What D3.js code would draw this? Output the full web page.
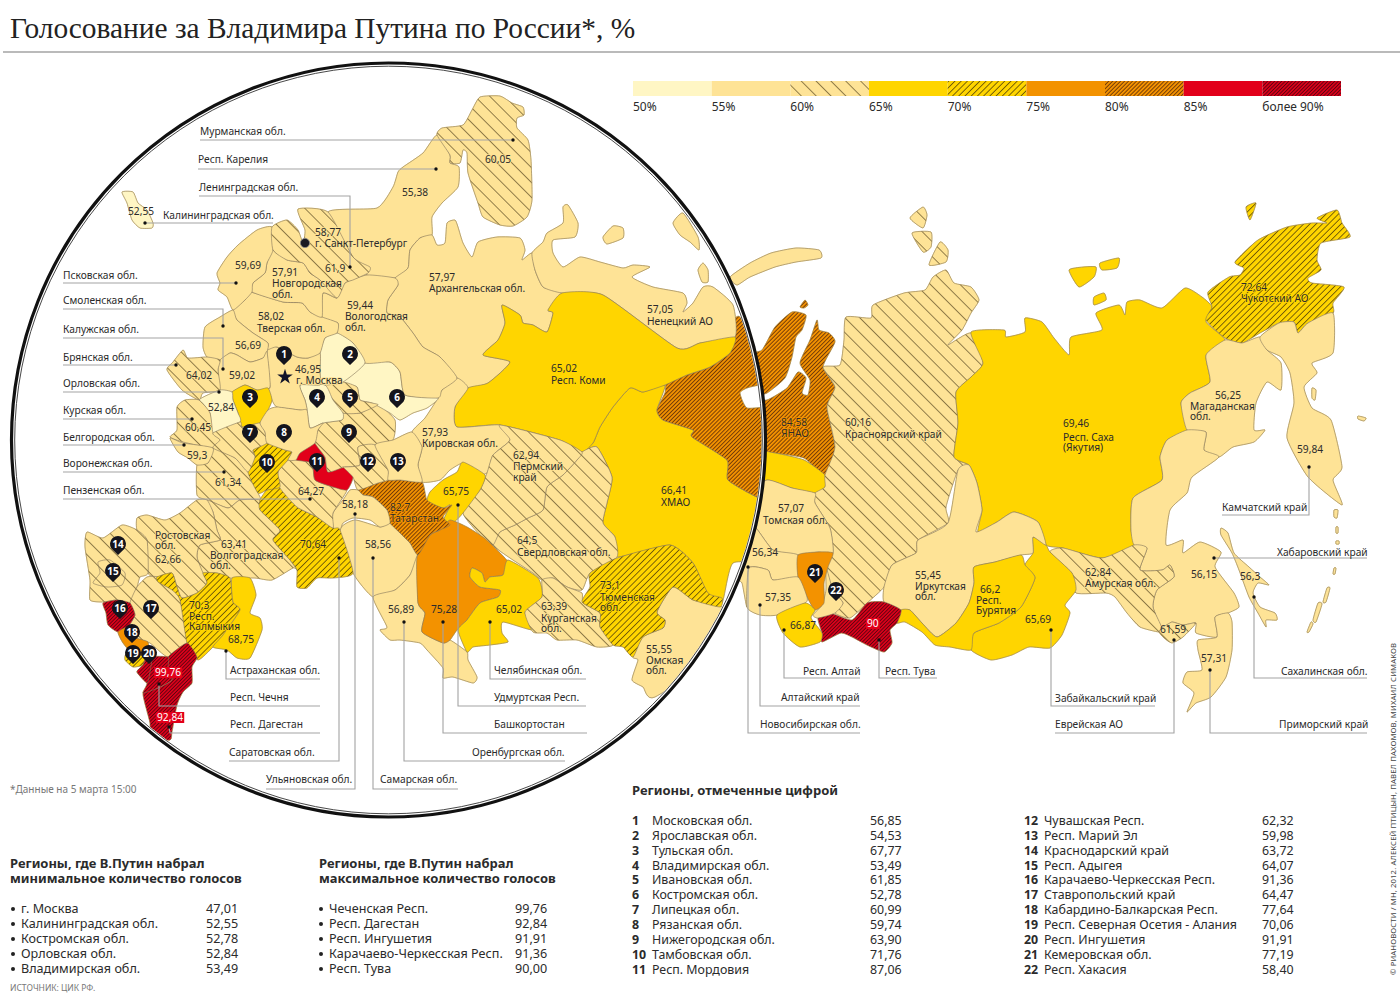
<!DOCTYPE html>
<html>
<head>
<meta charset="utf-8">
<script src="https://cdn.jsdelivr.net/npm/d3@7"></script>
<style>
  html, body { margin: 0; padding: 0; background: #fff; }
  svg { display: block; }
  text { font-family: "Noto Sans", sans-serif; fill: #2b2b2b; }
</style>
</head>
<body>
<div id="my_dataviz"></div>
<script>
// Election results by region
const regionNames = ["Мурманская обл.","Респ. Карелия","Архангельская обл.","Ненецкий АО","Респ. Коми","ХМАО","ЯНАО","Свердловская обл.","Пермский край","Кировская обл.","Удмуртская Респ.","Татарстан","Самарская обл.","Оренбургская обл.","Башкортостан","Челябинская обл.","Курганская обл.","Тюменская обл.","Омская обл.","Ульяновская обл.","Саратовская обл.","Пензенская обл.","Респ. Мордовия","Тамбовская обл.","Нижегородская обл.","Чувашская Респ.","Респ. Марий Эл","Костромская обл.","Ивановская обл.","Владимирская обл.","Ярославская обл.","Московская обл.","Тверская обл.","Новгородская обл.","Псковская обл.","Ленинградская обл.","Вологодская обл.","Смоленская обл.","Калужская обл.","Тульская обл.","Брянская обл.","Орловская обл.","Курская обл.","Белгородская обл.","Воронежская обл.","Липецкая обл.","Рязанская обл.","Ростовская обл.","Волгоградская обл.","Краснодарский край","Респ. Адыгея","Ставропольский край","Карачаево-Черкесская Респ.","Кабардино-Балкарская Респ.","Респ. Северная Осетия - Алания","Респ. Калмыкия","Астраханская обл.","Респ. Дагестан","Чеченская Респ.","Респ. Ингушетия","Калининградская обл.","Красноярский край","Респ. Саха","Чукотский АО","Магаданская обл.","Камчатский край","Хабаровский край","Амурская обл.","Забайкальский край","Респ. Бурятия","Иркутская обл.","Респ. Тува","Респ. Хакасия","Кемеровская обл.","Респ. Алтай","Алтайский край","Новосибирская обл.","Томская обл.","Еврейская АО","Приморский край","Сахалинская обл."];
const regionValues = [60.05,55.38,57.97,57.05,65.02,66.41,84.58,64.5,62.94,57.93,65.75,82.7,58.56,56.89,75.28,65.02,63.39,73.1,55.55,58.18,70.64,64.27,87.06,71.76,63.90,62.32,59.98,52.78,61.85,53.49,54.53,56.85,58.02,57.91,59.69,61.9,59.44,56.69,59.02,67.77,64.02,52.84,60.45,59.3,61.34,60.99,59.74,62.66,63.41,63.72,64.07,64.47,91.36,77.64,70.06,70.3,68.75,92.84,99.76,91.91,52.55,60.16,69.46,72.64,56.25,59.84,56.15,62.84,65.69,66.2,55.45,90,58.40,77.19,66.87,57.35,56.34,57.07,61.59,57.31,56.3];

// Class breaks and legend captions
const classBreaks = [55,60,65,70,75,80,85,90];
const legendLabels = ["50%","55%","60%","65%","70%","75%","80%","85%","более 90%"];

// Tables under the map
const minRows = ["г. Москва","Калининградская обл.","Костромская обл.","Орловская обл.","Владимирская обл."];
const minValues = ["47,01","52,55","52,78","52,84","53,49"];
const maxRows = ["Чеченская Респ.","Респ. Дагестан","Респ. Ингушетия","Карачаево-Черкесская Респ.","Респ. Тува"];
const maxValues = ["99,76","92,84","91,91","91,36","90,00"];
const numberedRows = ["Московская обл.","Ярославская обл.","Тульская обл.","Владимирская обл.","Ивановская обл.","Костромская обл.","Липецкая обл.","Рязанская обл.","Нижегородская обл.","Тамбовская обл.","Респ. Мордовия","Чувашская Респ.","Респ. Марий Эл","Краснодарский край","Респ. Адыгея","Карачаево-Черкесская Респ.","Ставропольский край","Кабардино-Балкарская Респ.","Респ. Северная Осетия - Алания","Респ. Ингушетия","Кемеровская обл.","Респ. Хакасия"];
const numberedValues = ["56,85","54,53","67,77","53,49","61,85","52,78","60,99","59,74","63,90","71,76","87,06","62,32","59,98","63,72","64,07","91,36","64,47","77,64","70,06","91,91","77,19","58,40"];

// Region outlines in map units, magnified part inside the lens. Later ones paint over earlier ones.
const lensRings = {
"ХМАО":[[[582,452],[593,443],[600,427],[613,407],[630,388],[643,392],[665,385],[657,410],[663,420],[693,430],[692,437],[727,460],[728,480],[757,497],[775,497],[775,560],[733,563],[722,603],[707,593],[693,563],[670,545],[617,557],[615,537],[603,523],[607,503],[612,477],[597,447]]],
"ЯНАО":[[[732,322],[740,317],[760,353],[775,360],[775,385],[760,385],[747,388],[740,393],[747,408],[775,412],[775,500],[757,497],[728,480],[727,460],[692,437],[693,430],[663,420],[657,410],[665,393],[667,383],[687,375],[710,367],[730,353],[735,337]]],
"Респ. Карелия":[[[437,135],[450,155],[450,163],[459,167],[458,187],[442,203],[432,217],[432,235],[420,238],[410,250],[408,268],[395,278],[367,275],[353,257],[328,212],[377,208],[393,187],[398,172],[403,167],[423,153]]],
"Мурманская обл.":[[[437,135],[442,128],[463,125],[472,110],[480,97],[500,96],[512,103],[523,107],[524,115],[517,118],[517,128],[528,140],[531,160],[532,200],[527,217],[513,226],[500,225],[483,217],[478,203],[468,173],[467,153],[463,150],[460,163],[450,163],[450,155]]],
"Архангельская обл.":[[[432,235],[437,245],[445,243],[447,223],[455,220],[458,227],[463,243],[472,257],[478,242],[497,237],[520,238],[525,250],[522,260],[532,253],[535,270],[543,287],[562,293],[548,310],[553,313],[547,332],[533,325],[523,323],[520,315],[502,305],[505,323],[498,340],[483,355],[510,362],[488,383],[468,388],[457,378],[440,357],[423,347],[413,333],[400,317],[387,313],[388,300],[398,285],[395,278],[408,268],[410,250],[420,238]]],
"Ненецкий АО":[[[532,253],[543,242],[547,233],[563,223],[563,207],[568,205],[578,223],[575,237],[553,240],[553,253],[563,267],[580,257],[600,262],[623,268],[633,265],[650,267],[632,277],[653,287],[683,293],[687,303],[683,312],[693,303],[703,287],[713,287],[733,305],[735,337],[700,343],[677,348],[603,295],[562,293],[543,287],[535,270]],[[603,237],[613,226],[623,228],[623,238],[607,244]],[[698,270],[703,263],[708,270],[708,282],[702,282]],[[673,223],[683,213],[698,237],[699,250],[690,242],[680,235]]],
"Респ. Коми":[[[562,293],[603,295],[677,348],[700,343],[735,337],[730,353],[710,367],[687,375],[665,385],[643,392],[630,388],[613,407],[600,427],[593,443],[582,452],[560,440],[500,425],[457,427],[455,407],[468,388],[488,383],[510,362],[483,355],[498,340],[505,323],[502,305],[520,315],[523,323],[533,325],[547,332],[553,313],[548,310]]],
"Кировская обл.":[[[457,378],[468,388],[455,407],[457,427],[500,425],[510,440],[493,455],[487,473],[470,475],[463,463],[450,470],[440,480],[422,482],[418,465],[422,447],[412,432],[425,418],[438,398],[442,390]]],
"Свердловская обл.":[[[597,447],[582,452],[577,460],[563,475],[547,487],[543,510],[528,518],[515,525],[500,532],[493,545],[510,558],[533,573],[542,580],[553,578],[567,587],[582,590],[590,573],[617,557],[615,537],[603,523],[607,503],[612,477]]],
"Пермский край":[[[500,425],[560,440],[582,452],[577,460],[563,475],[547,487],[543,510],[528,518],[515,525],[500,532],[493,545],[482,537],[463,513],[480,490],[487,473],[493,455],[510,440]]],
"Удмуртская Респ.":[[[463,462],[485,475],[480,490],[463,513],[453,523],[443,522],[450,505],[443,508],[427,503],[430,492],[443,480],[457,472]]],
"Самарская обл.":[[[340,530],[355,520],[380,527],[390,523],[400,533],[410,543],[418,555],[410,575],[395,590],[373,597],[353,573]]],
"Оренбургская обл.":[[[373,597],[395,590],[410,575],[418,555],[418,603],[425,613],[422,632],[443,643],[450,640],[467,652],[468,660],[477,677],[473,683],[453,677],[443,678],[443,668],[427,650],[420,643],[400,640],[390,640],[380,630],[387,627]]],
"Башкортостан":[[[450,520],[467,527],[483,537],[492,545],[508,562],[503,575],[490,577],[485,582],[482,573],[472,568],[470,577],[480,587],[500,590],[498,597],[480,603],[467,620],[457,630],[450,640],[443,643],[422,632],[425,613],[418,603],[417,557],[430,535],[440,530]]],
"Татарстан":[[[358,490],[378,483],[388,480],[400,480],[422,482],[427,500],[443,508],[452,505],[443,517],[450,525],[440,530],[430,535],[418,555],[410,543],[400,533],[390,523],[387,510],[373,497],[363,495]]],
"Челябинская обл.":[[[508,560],[538,578],[542,597],[525,612],[533,630],[503,622],[502,633],[508,642],[490,645],[473,647],[467,652],[458,630],[467,620],[480,603],[498,597],[500,590],[480,587],[470,577],[472,568],[482,573],[485,582],[490,577],[503,575]]],
"Курганская обл.":[[[542,580],[553,578],[567,587],[582,593],[583,603],[600,613],[600,627],[613,645],[597,647],[577,640],[557,640],[547,633],[533,632],[525,612],[542,597]]],
"Омская обл.":[[[673,587],[693,600],[722,607],[740,640],[655,697],[643,687],[632,680],[638,660],[633,657],[643,637],[663,628],[665,620],[657,612]]],
"Тюменская обл.":[[[590,573],[617,558],[670,545],[693,563],[708,593],[722,598],[720,607],[693,600],[673,587],[657,612],[665,620],[663,628],[643,637],[633,657],[623,647],[613,645],[600,627],[600,613],[582,602],[590,587]]],
"Ульяновская обл.":[[[333,513],[343,500],[350,490],[358,490],[363,495],[373,497],[387,510],[390,523],[380,527],[370,520],[353,518],[343,523],[340,530],[333,528]]],
"Воронежская обл.":[[[213,448],[235,458],[248,472],[258,493],[260,500],[240,500],[228,508],[207,500],[197,495],[197,465],[208,463]]],
"Волгоградская обл.":[[[213,512],[207,500],[228,508],[240,500],[260,500],[260,510],[280,530],[273,540],[290,560],[297,570],[293,568],[272,580],[255,578],[230,578],[217,573],[203,573],[197,557],[200,545],[220,540],[217,530]]],
"Саратовская обл.":[[[260,500],[267,490],[280,488],[297,507],[317,517],[333,528],[340,530],[353,573],[333,578],[317,578],[307,588],[297,587],[297,570],[290,560],[273,540],[280,530],[260,510]]],
"Пензенская обл.":[[[280,488],[278,472],[288,460],[296,460],[312,463],[315,480],[333,487],[347,490],[333,513],[333,528],[317,517],[297,507]]],
"Тамбовская обл.":[[[253,450],[267,443],[285,450],[292,452],[288,460],[278,472],[280,487],[267,490],[258,493],[248,472],[255,457]]],
"Респ. Мордовия":[[[296,460],[300,453],[315,443],[325,457],[328,472],[343,467],[353,477],[347,490],[333,487],[315,480],[312,463]]],
"Нижегородская обл.":[[[342,420],[343,413],[360,413],[378,405],[395,420],[393,440],[375,445],[358,447],[360,465],[345,467],[328,472],[325,457],[315,443],[318,430],[323,423]]],
"Чувашская Респ.":[[[358,447],[375,445],[388,470],[388,480],[378,483],[358,490],[353,477],[343,467],[345,467],[360,465]]],
"Респ. Марий Эл":[[[375,445],[393,440],[412,432],[422,447],[418,465],[422,482],[400,480],[388,480],[388,470]]],
"Костромская обл.":[[[343,382],[365,363],[390,362],[400,372],[405,395],[438,398],[427,408],[413,413],[400,420],[390,413],[372,403],[360,400],[357,387]]],
"Вологодская обл.":[[[345,283],[367,275],[395,278],[398,285],[388,300],[387,313],[400,317],[413,333],[423,347],[440,357],[457,378],[442,390],[438,398],[405,395],[400,372],[390,362],[365,363],[353,343],[337,333],[338,323],[322,317],[323,293],[337,298]]],
"Ивановская обл.":[[[325,385],[343,382],[357,387],[360,400],[372,403],[378,405],[360,413],[343,413],[333,400]]],
"Владимирская обл.":[[[300,385],[325,385],[333,400],[343,413],[342,420],[323,423],[310,428],[307,410],[305,400]]],
"Ярославская обл.":[[[320,353],[325,338],[337,333],[353,343],[365,363],[343,382],[325,385],[320,380],[320,372]]],
"Московская обл.":[[[267,350],[277,347],[297,357],[308,358],[320,353],[320,372],[320,385],[300,385],[305,400],[307,410],[300,410],[277,407],[272,400],[268,388],[270,387]]],
"Тверская обл.":[[[250,292],[283,302],[302,303],[310,312],[322,317],[338,323],[337,333],[325,338],[320,353],[308,358],[297,357],[277,347],[267,350],[268,343],[253,333],[237,320],[233,310],[245,300]]],
"Новгородская обл.":[[[273,250],[287,260],[303,263],[310,273],[320,280],[337,298],[323,293],[322,317],[310,312],[302,303],[283,302],[252,292],[253,283],[265,273],[267,263]]],
"Псковская обл.":[[[217,273],[227,257],[238,245],[257,230],[272,227],[273,250],[267,263],[265,273],[253,283],[252,292],[245,300],[233,310],[227,297],[218,290],[220,283]]],
"Ленинградская обл.":[[[272,227],[287,220],[298,230],[303,243],[305,230],[298,209],[328,212],[353,257],[370,267],[368,273],[353,280],[345,283],[337,298],[320,280],[310,273],[303,263],[287,260],[273,250]]],
"Смоленская обл.":[[[203,347],[205,327],[220,317],[233,310],[237,320],[253,333],[268,343],[267,352],[263,358],[250,362],[237,355],[230,353],[220,360],[207,357]]],
"Калужская обл.":[[[220,360],[230,353],[237,355],[250,362],[263,358],[267,352],[270,387],[257,390],[245,385],[232,392],[220,390],[218,370]]],
"Тульская обл.":[[[232,392],[245,385],[257,390],[268,388],[272,400],[268,410],[260,423],[242,427],[238,413],[233,400]]],
"Брянская обл.":[[[167,370],[173,362],[183,350],[188,358],[207,357],[220,360],[218,370],[220,390],[203,393],[199,400],[182,390]]],
"Орловская обл.":[[[199,400],[220,390],[232,392],[233,400],[238,413],[240,422],[213,433],[210,413]]],
"Курская обл.":[[[177,407],[185,400],[199,400],[210,413],[213,433],[220,440],[213,448],[183,442],[170,437],[177,430]]],
"Белгородская обл.":[[[170,438],[183,443],[213,448],[208,463],[197,465],[188,458],[178,452]]],
"Липецкая обл.":[[[213,433],[240,422],[242,427],[260,423],[265,432],[267,443],[253,450],[255,457],[248,472],[235,458],[213,448],[220,440]]],
"Рязанская обл.":[[[260,423],[268,410],[277,407],[300,410],[307,410],[310,428],[323,423],[318,430],[315,443],[300,453],[296,460],[288,460],[292,452],[285,450],[267,443],[265,432]]],
"Ростовская обл.":[[[137,518],[147,515],[165,520],[180,513],[197,500],[207,500],[213,512],[217,530],[220,540],[200,545],[197,557],[203,573],[207,583],[197,593],[182,598],[177,587],[172,573],[157,577],[148,573],[147,540],[137,530]]],
"Краснодарский край":[[[87,532],[103,538],[122,525],[137,530],[147,540],[148,573],[140,577],[137,587],[130,603],[117,600],[103,602],[90,600],[90,580],[85,547]]],
"Респ. Адыгея":[[[98,562],[110,560],[125,573],[122,585],[107,587],[93,583],[100,573]]],
"Ставропольский край":[[[137,587],[147,577],[158,577],[173,587],[180,598],[187,643],[168,657],[150,643],[133,637],[128,627],[135,615],[130,603]]],
"Карачаево-Черкесская Респ.":[[[103,603],[117,600],[130,603],[135,615],[128,627],[118,632],[108,625],[106,613]]],
"Кабардино-Балкарская Респ.":[[[118,632],[128,627],[133,637],[148,642],[147,657],[135,657],[123,643]]],
"Респ. Северная Осетия - Алания":[[[125,660],[127,653],[147,657],[143,665],[133,667]]],
"Респ. Калмыкия":[[[157,577],[172,573],[177,587],[182,598],[197,593],[207,583],[203,573],[217,573],[230,578],[233,602],[240,610],[223,635],[213,647],[198,660],[187,643],[180,600],[172,590],[158,582]]],
"Астраханская обл.":[[[232,578],[250,578],[256,595],[250,613],[260,618],[262,630],[250,658],[237,658],[227,650],[213,647],[223,635],[240,610],[233,602]]],
"Респ. Дагестан":[[[168,657],[187,643],[197,657],[192,667],[192,683],[183,692],[177,705],[172,732],[170,740],[150,740],[150,723],[143,693],[158,688],[172,680],[168,668]]],
"Чеченская Респ.":[[[137,672],[143,665],[147,657],[168,657],[168,668],[172,680],[158,688],[143,693],[147,683]]],
"Респ. Ингушетия":[[[143,665],[147,657],[152,657],[150,672],[147,683],[137,672]]],
"Калининградская обл.":[[[122,192],[133,192],[138,203],[147,210],[153,223],[152,228],[140,228],[132,220],[127,203]]]
};

// Same for the part of the map outside the lens
const eastRings = {
"Архангельская обл.":[[[730,277],[750,263],[771,253],[796,248],[819,250],[821,258],[796,262],[775,267],[750,277],[737,285]]],
"ЯНАО":[[[745,360],[762,350],[775,327],[792,312],[806,315],[802,330],[796,337],[792,357],[785,378],[767,393],[750,398],[767,400],[787,388],[798,372],[806,378],[802,393],[808,395],[810,380],[800,363],[810,340],[817,320],[819,330],[829,333],[835,342],[823,367],[835,387],[827,407],[835,447],[825,475],[804,458],[775,453],[745,447]],[[800,307],[805,300],[808,305],[804,308]]],
"ХМАО":[[[745,450],[775,453],[804,460],[825,475],[825,487],[815,493],[792,488],[767,480],[745,490]]],
"Красноярский край":[[[846,317],[871,318],[873,305],[904,293],[925,290],[933,277],[946,270],[954,283],[971,287],[979,300],[971,313],[962,330],[948,345],[971,333],[983,363],[971,377],[956,392],[958,423],[954,457],[969,465],[958,470],[946,507],[948,523],[918,540],[916,553],[892,565],[884,587],[867,603],[850,618],[835,613],[843,603],[833,590],[826,567],[833,553],[830,528],[815,503],[815,493],[825,487],[825,475],[835,447],[827,407],[835,387],[823,367],[840,365],[844,340]],[[910,218],[923,207],[927,215],[923,228]],[[912,233],[931,232],[931,247],[923,252]],[[929,265],[940,242],[948,250],[946,262]]],
"Респ. Саха":[[[971,332],[1004,330],[1006,337],[1025,332],[1025,318],[1042,322],[1054,338],[1069,355],[1071,337],[1102,330],[1096,313],[1119,305],[1125,315],[1127,302],[1140,300],[1162,308],[1185,288],[1202,297],[1212,307],[1206,322],[1225,340],[1206,355],[1210,382],[1190,393],[1181,403],[1187,430],[1167,440],[1160,457],[1162,480],[1133,498],[1131,530],[1134,547],[1102,558],[1063,548],[1046,545],[1038,522],[1014,512],[997,522],[978,532],[982,510],[977,483],[969,465],[954,457],[958,423],[956,392],[971,377],[983,363]],[[1069,270],[1083,267],[1096,267],[1094,277],[1079,287]],[[1100,263],[1119,258],[1117,268],[1102,270]],[[1094,297],[1104,293],[1106,300],[1094,305]]],
"Чукотский АО":[[[1206,320],[1212,307],[1208,292],[1229,277],[1240,275],[1244,268],[1235,262],[1258,240],[1287,227],[1312,223],[1327,223],[1317,218],[1337,210],[1342,223],[1350,237],[1321,243],[1317,260],[1321,270],[1308,278],[1312,283],[1344,287],[1333,303],[1333,313],[1308,323],[1298,333],[1294,322],[1279,323],[1260,333],[1242,343],[1225,338]],[[1246,207],[1256,203],[1250,220]]],
"Магаданская обл.":[[[1225,340],[1242,343],[1260,337],[1267,350],[1281,363],[1281,390],[1267,382],[1256,403],[1254,430],[1265,430],[1254,442],[1233,447],[1219,457],[1204,450],[1206,432],[1187,430],[1181,403],[1190,393],[1210,382],[1206,355]]],
"Камчатский край":[[[1260,337],[1279,323],[1294,322],[1298,333],[1308,323],[1333,313],[1333,353],[1312,363],[1317,373],[1304,387],[1312,408],[1331,420],[1342,467],[1333,480],[1342,505],[1308,477],[1287,438],[1294,403],[1290,373],[1281,357],[1267,350]],[[1312,388],[1316,390],[1315,400],[1312,398]],[[1358,416],[1366,418],[1364,421],[1358,419]]],
"Хабаровский край":[[[1167,440],[1187,430],[1206,432],[1204,450],[1219,457],[1192,477],[1187,493],[1170,510],[1166,545],[1183,540],[1183,553],[1200,542],[1221,552],[1215,567],[1234,593],[1239,607],[1228,613],[1215,617],[1217,637],[1196,633],[1196,623],[1183,625],[1172,622],[1162,628],[1153,607],[1157,590],[1174,577],[1170,565],[1162,570],[1140,570],[1147,548],[1134,545],[1131,530],[1133,498],[1162,480],[1160,457]]],
"Амурская обл.":[[[1050,552],[1063,548],[1102,558],[1134,545],[1147,548],[1140,570],[1162,570],[1170,565],[1174,577],[1157,590],[1153,607],[1162,628],[1159,632],[1140,627],[1127,613],[1115,597],[1106,593],[1076,593],[1072,573]]],
"Забайкальский край":[[[1033,537],[1046,545],[1050,552],[1072,573],[1076,590],[1065,605],[1070,613],[1062,635],[1050,648],[1029,647],[1012,655],[991,660],[971,650],[974,633],[999,623],[1021,607],[1035,578],[1025,565],[1033,553]]],
"Иркутская обл.":[[[976,532],[997,522],[1014,512],[1038,522],[1046,545],[1033,537],[1033,553],[1021,555],[995,562],[974,567],[974,583],[969,603],[956,623],[937,637],[922,623],[910,610],[901,610],[884,602],[884,587],[892,565],[916,553],[918,540],[948,523],[958,470],[969,465],[977,483],[982,510]]],
"Респ. Бурятия":[[[974,567],[995,562],[1021,555],[1025,565],[1035,578],[1021,607],[999,623],[974,633],[971,650],[950,647],[935,645],[922,632],[905,622],[897,623],[901,610],[910,610],[922,623],[937,637],[956,623],[969,603],[974,583]]],
"Респ. Тува":[[[818,618],[830,613],[852,620],[867,603],[884,602],[901,610],[897,623],[890,630],[892,643],[884,652],[867,645],[852,637],[841,633],[822,642],[822,633]]],
"Томская обл.":[[[745,497],[767,480],[792,488],[815,493],[815,503],[830,528],[833,553],[818,552],[798,555],[773,550],[756,528],[745,525]]],
"Новосибирская обл.":[[[745,525],[756,528],[773,550],[798,555],[798,577],[773,580],[768,570],[749,568],[747,607],[742,583],[735,575]]],
"Респ. Хакасия":[[[826,567],[833,590],[843,603],[835,613],[818,618],[813,615],[822,605],[826,590]]],
"Кемеровская обл.":[[[798,555],[818,552],[833,553],[828,567],[824,583],[824,603],[815,610],[807,597],[798,577]]],
"Алтайский край":[[[747,607],[749,568],[768,570],[773,580],[798,577],[807,597],[805,603],[777,615],[760,615]]],
"Респ. Алтай":[[[777,615],[805,603],[815,610],[811,618],[822,633],[820,642],[800,647],[783,633]]],
"Еврейская АО":[[[1162,628],[1172,622],[1183,625],[1196,623],[1183,637],[1172,643],[1164,638],[1159,632]]],
"Приморский край":[[[1198,640],[1217,637],[1215,617],[1228,613],[1232,622],[1232,650],[1226,677],[1211,697],[1196,703],[1187,712],[1194,693],[1183,683],[1187,672],[1202,670],[1198,650]]],
"Сахалинская обл.":[[[1221,528],[1228,533],[1234,553],[1249,567],[1260,577],[1269,585],[1258,583],[1253,593],[1260,607],[1275,613],[1277,620],[1266,620],[1266,627],[1258,613],[1249,597],[1239,570],[1232,553],[1221,535]],[[1334,510],[1338,510],[1337,518],[1334,517]],[[1336,527],[1338,527],[1338,533],[1336,533]],[[1336,541],[1339,541],[1339,544],[1336,544]],[[1334,568],[1336,568],[1335,574],[1333,574]],[[1327,588],[1330,588],[1326,602],[1323,602]],[[1318,603],[1322,604],[1316,622],[1313,620]],[[1311,622],[1313,624],[1309,632],[1307,632]]]
};

// Text placed on the map: caption, x, y, halo colour key
const mapLabels = [
["60,05",485,163,"l"],["55,38",402,196],["52,55",128,215],["58,77",315,236,"l"],["г. Санкт-Петербург",315,247],["61,9",325,272,"l"],["59,69",235,269],["57,91",272,276],["Новгородская",272,287],["обл.",272,298],["59,44",347,309],["Вологодская",345,320],["обл.",345,331],["58,02",258,320],["Тверская обл.",257,332],["56,69",235,349],["46,95",295,373],["г. Москва",296,384,"l"],["64,02",186,379,"l"],["59,02",229,379],["52,84",208,411],["60,45",185,431,"l"],["59,3",187,459],["61,34",215,486,"l"],["64,27",298,495,"l"],["58,18",342,508],["Ростовская",155,539,"l"],["обл.",155,549,"l"],["62,66",155,563,"l"],["63,41",221,548,"l"],["Волгоградская",210,559,"l"],["обл.",210,569,"l"],["70,64",300,548,"y"],["58,56",365,548],["70,3",189,609,"y"],["Респ.",189,620,"y"],["Калмыкия",189,630,"y"],["68,75",228,643],["56,89",388,613],["75,28",431,613],["65,02",496,613],["65,75",443,495],["82,7",390,511,"o"],["Татарстан",390,522,"o"],["57,93",422,436],["Кировская обл.",422,447],["62,94",513,459,"l"],["Пермский",513,470,"l"],["край",513,481,"l"],["64,5",517,544,"l"],["Свердловская обл.",517,556,"l"],["63,39",541,610,"l"],["Курганская",541,622,"l"],["обл.",541,632,"l"],["73,1",600,589,"y"],["Тюменская",600,601,"y"],["обл.",600,611,"y"],["55,55",646,653],["Омская",646,664],["обл.",646,674],["66,41",661,494],["ХМАО",661,506],["65,02",551,372],["Респ. Коми",551,384],["57,97",429,281],["Архангельская обл.",429,292],["57,05",647,313],["Ненецкий АО",647,325],
["84,58",781,426,"o"],["ЯНАО",781,437,"o"],["60,16",845,426,"l"],["Красноярский край",845,438,"l"],["69,46",1063,427],["Респ. Саха",1063,441],["(Якутия)",1063,451],["72,64",1241,291,"y"],["Чукотский АО",1241,302,"y"],["56,25",1215,399],["Магаданская",1190,410],["обл.",1190,420],["59,84",1297,453],["57,07",778,512],["Томская обл.",763,524],["56,34",752,556],["57,35",765,601],["66,87",790,629],["55,45",915,579],["Иркутская",915,590],["обл.",915,600],["66,2",980,593],["Респ.",976,604],["Бурятия",976,614],["65,69",1025,623],["62,84",1085,576,"l"],["Амурская обл.",1085,587,"l"],["56,15",1191,578],["56,3",1240,580],["61,59",1160,633],["57,31",1201,662]
];
const redLabels = [["99,76",155,676],["92,84",157,721],["90",867,627]];

// Callouts: caption, text x, text y, leader line from the dot along the underline
const callouts = [
["Мурманская обл.",200,135,[[513,140],[200,140]]],
["Респ. Карелия",198,163,[[436,169],[198,169]]],
["Ленинградская обл.",199,191,[[350,267],[350,196],[199,196]]],
["Калининградская обл.",163,219,[[145,223],[273,223]]],
["Псковская обл.",63,279,[[236,283],[63,283]]],
["Смоленская обл.",63,304,[[223,326],[223,309],[63,309]]],
["Калужская обл.",63,333,[[223,369],[223,338],[63,338]]],
["Брянская обл.",63,361,[[176,365],[63,365]]],
["Орловская обл.",63,387,[[219,392],[63,392]]],
["Курская обл.",63,414,[[192,419],[63,419]]],
["Белгородская обл.",63,441,[[184,445],[63,445]]],
["Воронежская обл.",63,467,[[224,472],[63,472]]],
["Пензенская обл.",63,494,[[310,499],[63,499]]],
["Астраханская обл.",230,674,[[226,651],[226,679],[320,679]]],
["Респ. Чечня",230,701,[[159,684],[159,706],[320,706]]],
["Респ. Дагестан",230,728,[[169,727],[170,733],[320,733]]],
["Саратовская обл.",229,756,[[339,558],[339,761],[229,761]]],
["Ульяновская обл.",266,783,[[355,514],[355,789],[266,789]]],
["Самарская обл.",380,783,[[373,558],[373,789],[458,789]]],
["Оренбургская обл.",472,756,[[404,622],[404,761],[565,761]]],
["Башкортостан",494,728,[[443,622],[443,733],[587,733]]],
["Удмуртская Респ.",494,701,[[458,505],[458,706],[586,706]]],
["Челябинская обл.",494,674,[[490,622],[490,679],[586,679]]],
["Респ. Алтай",803,675,[[784,630],[784,678],[860,678]]],
["Алтайский край",781,701,[[760,605],[760,706],[860,706]]],
["Новосибирская обл.",760,728,[[748,567],[748,733],[860,733]]],
["Респ. Тува",885,675,[[879,640],[879,678],[937,678]]],
["Забайкальский край",1055,702,[[1051,630],[1051,706],[1155,706]]],
["Еврейская АО",1055,728,[[1174,640],[1174,733],[1055,733]]],
["Приморский край",1279,728,[[1210,670],[1210,733],[1367,733]]],
["Сахалинская обл.",1281,675,[[1254,597],[1254,678],[1367,678]]],
["Хабаровский край",1277,556,[[1214,558],[1367,558]]],
["Камчатский край",1222,511,[[1309,467],[1309,515],[1222,515]]]
];

// Numbered pins on the map, head centres
const pinSpots = [[284,354],[350,354],[250,397],[317,397],[350,397],[397,397],[250,432],[284,432],[349,432],[267,462],[317,461],[368,461],[398,461],[118,544],[113,571],[120,608],[151,608],[132,632],[133,653],[149,653],[815,572],[836,590]];
const lens = { x: 388.5, y: 440, r: 375 };

var width = 1400, height = 994;
var svg = d3.select("#my_dataviz").append("svg").attr("width", width).attr("height", height);

// Map units happen to be page pixels, keep the scales so the map can be moved about
var x = d3.scaleLinear().domain([0, 1400]).range([0, width]);
var y = d3.scaleLinear().domain([0, 994]).range([0, height]);
var ring = d3.line().x(d => x(d[0])).y(d => y(d[1])).curve(d3.curveCardinalClosed.tension(0.45));
var leader = d3.line().x(d => x(d[0])).y(d => y(d[1]));

// Hatch fills
var defs = svg.append("defs");
function hatch(id, bg, ink, gap, lw, angle) {
  var p = defs.append("pattern").attr("id", id).attr("patternUnits", "userSpaceOnUse")
    .attr("width", gap).attr("height", gap).attr("patternTransform", "rotate(" + angle + ")");
  p.append("rect").attr("width", gap).attr("height", gap).attr("fill", bg);
  p.append("line").attr("x1", gap / 2).attr("x2", gap / 2).attr("y1", 0).attr("y2", gap)
    .attr("stroke", ink).attr("stroke-width", lw);
}
hatch("h-light", "#fee396", "#6e5c30", 10.5, 0.75, -45);
hatch("h-yellow", "#ffd500", "#5d4a08", 4.4, 0.8, 45);
hatch("h-orange", "#f39200", "#6b3608", 2.8, 0.9, 45);
hatch("h-red", "#e2001a", "#5a0410", 2.5, 0.95, 45);

var fills = ["#fff6c4", "#fee396", "url(#h-light)", "#ffd500", "url(#h-yellow)", "#f39200", "url(#h-orange)", "#e2001a", "url(#h-red)"];
var color = d3.scaleThreshold().domain(classBreaks).range(fills);
var halo = { l: "#fee396", y: "#ffd500", o: "#f39200" };
var valueOf = new Map(regionNames.map((d, i) => [d, regionValues[i]]));

function drawRegions(g, rings) {
  var all = Object.entries(rings).flatMap(([name, list]) => list.map(r => ({ name: name, r: r })));
  // base pass fills slivers between neighbours
  g.append("g").selectAll("path").data(all).enter().append("path")
    .attr("d", d => ring(d.r)).attr("fill", "#fee396").attr("stroke", "#fee396").attr("stroke-width", 1);
  g.append("g").selectAll("path").data(all).enter().append("path")
    .attr("d", d => ring(d.r))
    .attr("fill", d => color(valueOf.get(d.name)))
    .attr("stroke", "#87775a").attr("stroke-width", 0.6).attr("stroke-linejoin", "round");
}

defs.append("clipPath").attr("id", "lens-clip").append("circle")
  .attr("cx", x(lens.x)).attr("cy", y(lens.y)).attr("r", lens.r - 2);

drawRegions(svg.append("g"), eastRings);
svg.append("circle").attr("cx", x(lens.x)).attr("cy", y(lens.y)).attr("r", lens.r + 2).attr("fill", "#fff");
drawRegions(svg.append("g").attr("clip-path", "url(#lens-clip)"), lensRings);

// Double ring of the magnifier
svg.append("circle").attr("cx", x(lens.x)).attr("cy", y(lens.y)).attr("r", lens.r + 2)
  .attr("fill", "none").attr("stroke", "#111").attr("stroke-width", 3.2);
svg.append("circle").attr("cx", x(lens.x)).attr("cy", y(lens.y)).attr("r", lens.r - 1.2)
  .attr("fill", "none").attr("stroke", "#333").attr("stroke-width", 0.9);

// Callouts
var co = svg.append("g");
co.selectAll("path").data(callouts).enter().append("path")
  .attr("d", d => leader(d[3])).attr("fill", "none").attr("stroke", "#a3a3a3").attr("stroke-width", 1.1);
co.selectAll("circle").data(callouts).enter().append("circle")
  .attr("cx", d => x(d[3][0][0])).attr("cy", d => y(d[3][0][1])).attr("r", 1.7).attr("fill", "#111");
co.selectAll("text").data(callouts).enter().append("text")
  .attr("x", d => x(d[1])).attr("y", d => y(d[2])).style("font-size", "10.2px").text(d => d[0]);

// Labels on the map
var lab = svg.append("g");
lab.selectAll("text").data(mapLabels).enter().append("text")
  .attr("x", d => x(d[1])).attr("y", d => y(d[2])).style("font-size", "10.2px")
  .attr("stroke", d => d[3] ? halo[d[3]] : "none").attr("stroke-width", 1.6)
  .style("paint-order", "stroke").text(d => d[0]);
var red = svg.append("g").selectAll("g").data(redLabels).enter().append("g");
red.append("text").attr("x", d => x(d[1])).attr("y", d => y(d[2])).style("font-size", "10.2px").style("fill", "#fff").text(d => d[0]);
red.insert("rect", "text").each(function(d) {
  var b = this.parentNode.querySelector("text").getBBox();
  d3.select(this).attr("x", b.x - 1).attr("y", b.y + 2).attr("width", b.width + 2).attr("height", b.height - 3).attr("fill", "#e2001a");
});

// City marks
svg.append("circle").attr("cx", x(305)).attr("cy", y(243)).attr("r", 4.6).attr("fill", "#1a1a22").attr("stroke", "#888").attr("stroke-width", 0.8);
svg.append("path").attr("transform", "translate(" + x(285) + "," + y(377) + ")")
  .attr("d", d3.symbol().type(d3.symbolStar).size(75)()).attr("fill", "#111328");

// Numbered pins
function pinPath() {
  var p = d3.path(), r = 8;
  p.moveTo(-r * 0.82, r * 0.57);
  p.arc(0, 0, r, Math.PI * 0.8, Math.PI * 0.2);
  p.lineTo(0, r + 3);
  p.closePath();
  return p.toString();
}
var pins = svg.append("g").selectAll("g").data(pinSpots).enter().append("g")
  .attr("transform", d => "translate(" + x(d[0]) + "," + y(d[1]) + ")");
pins.append("path").attr("d", pinPath()).attr("fill", "#14141c");
pins.append("text").attr("text-anchor", "middle").attr("y", 3.5).style("fill", "#fff")
  .style("font-size", "10px").style("font-weight", 700).text((d, i) => i + 1);

// Legend, swatch per class
var legendX = d3.scaleBand().domain(d3.range(fills.length)).range([633, 1341]);
var leg = svg.append("g");
leg.selectAll("rect").data(fills).enter().append("rect")
  .attr("x", (d, i) => legendX(i)).attr("y", 81).attr("width", legendX.bandwidth()).attr("height", 15).attr("fill", d => d);
leg.selectAll("text").data(legendLabels).enter().append("text")
  .attr("x", (d, i) => legendX(i)).attr("y", 111).style("font-size", "12px").text(d => d);

// Title
svg.append("text").attr("x", 10).attr("y", 38)
  .style("font-family", '"Liberation Serif", serif').style("font-size", "29.4px").style("fill", "#222")
  .text("Голосование за Владимира Путина по России*, %");
svg.append("line").attr("x1", 3).attr("x2", 1400).attr("y1", 52).attr("y2", 52).attr("stroke", "#777").attr("stroke-width", 1.2);

svg.append("text").attr("x", 10).attr("y", 793).style("font-size", "10px").style("fill", "#777").text("*Данные на 5 марта 15:00");

// Bottom tables
function heading(lines, tx, ty) {
  lines.forEach((t, i) => svg.append("text").attr("x", tx).attr("y", ty + i * 15)
    .style("font-size", "12.95px").style("font-weight", 700).text(t));
}
function bulletTable(names, vals, tx, vx) {
  var rowY = d3.scalePoint().domain(names).range([913, 973]);
  var g = svg.append("g").style("font-size", "12.6px");
  g.selectAll("circle").data(names).enter().append("circle")
    .attr("cx", tx + 3).attr("cy", d => rowY(d) - 4).attr("r", 2).attr("fill", "#222");
  g.selectAll("text.n").data(names).enter().append("text").attr("class", "n")
    .attr("x", tx + 11).attr("y", d => rowY(d)).text(d => d);
  g.selectAll("text.v").data(names).enter().append("text").attr("class", "v")
    .attr("x", vx).attr("y", d => rowY(d)).text((d, i) => vals[i]);
}
heading(["Регионы, где В.Путин набрал", "минимальное количество голосов"], 10, 868);
bulletTable(minRows, minValues, 10, 206);
heading(["Регионы, где В.Путин набрал", "максимальное количество голосов"], 319, 868);
bulletTable(maxRows, maxValues, 318, 515);

svg.append("text").attr("x", 632).attr("y", 795).style("font-size", "13px").style("font-weight", 700).text("Регионы, отмеченные цифрой");
function numberTable(from, to, nx) {
  var idx = d3.range(from, to);
  var rowY = d3.scalePoint().domain(idx).range([825, 973.5]);
  var g = svg.append("g").style("font-size", "12.4px");
  g.selectAll("text.k").data(idx).enter().append("text").attr("class", "k")
    .attr("x", nx).attr("y", d => rowY(d)).style("font-weight", 700).text(d => d + 1);
  g.selectAll("text.n").data(idx).enter().append("text").attr("class", "n")
    .attr("x", nx + 20).attr("y", d => rowY(d)).text(d => numberedRows[d]);
  g.selectAll("text.v").data(idx).enter().append("text").attr("class", "v")
    .attr("x", nx + 238).attr("y", d => rowY(d)).text(d => numberedValues[d]);
}
numberTable(0, 11, 632);
numberTable(11, 22, 1024);

// Source, and the credit up the right side
svg.append("text").attr("x", 10).attr("y", 991).style("font-size", "8.5px").style("fill", "#777").text("ИСТОЧНИК: ЦИК РФ.");
svg.append("text").attr("transform", "translate(1396,975) rotate(-90)").style("font-size", "7.7px").style("letter-spacing", "0.12px").style("fill", "#444")
  .text("© РИАНОВОСТИ / МН, 2012. АЛЕКСЕЙ ПТИЦЫН, ПАВЕЛ ПАХОМОВ, МИХАИЛ СИМАКОВ");
</script>
</body>
</html>
